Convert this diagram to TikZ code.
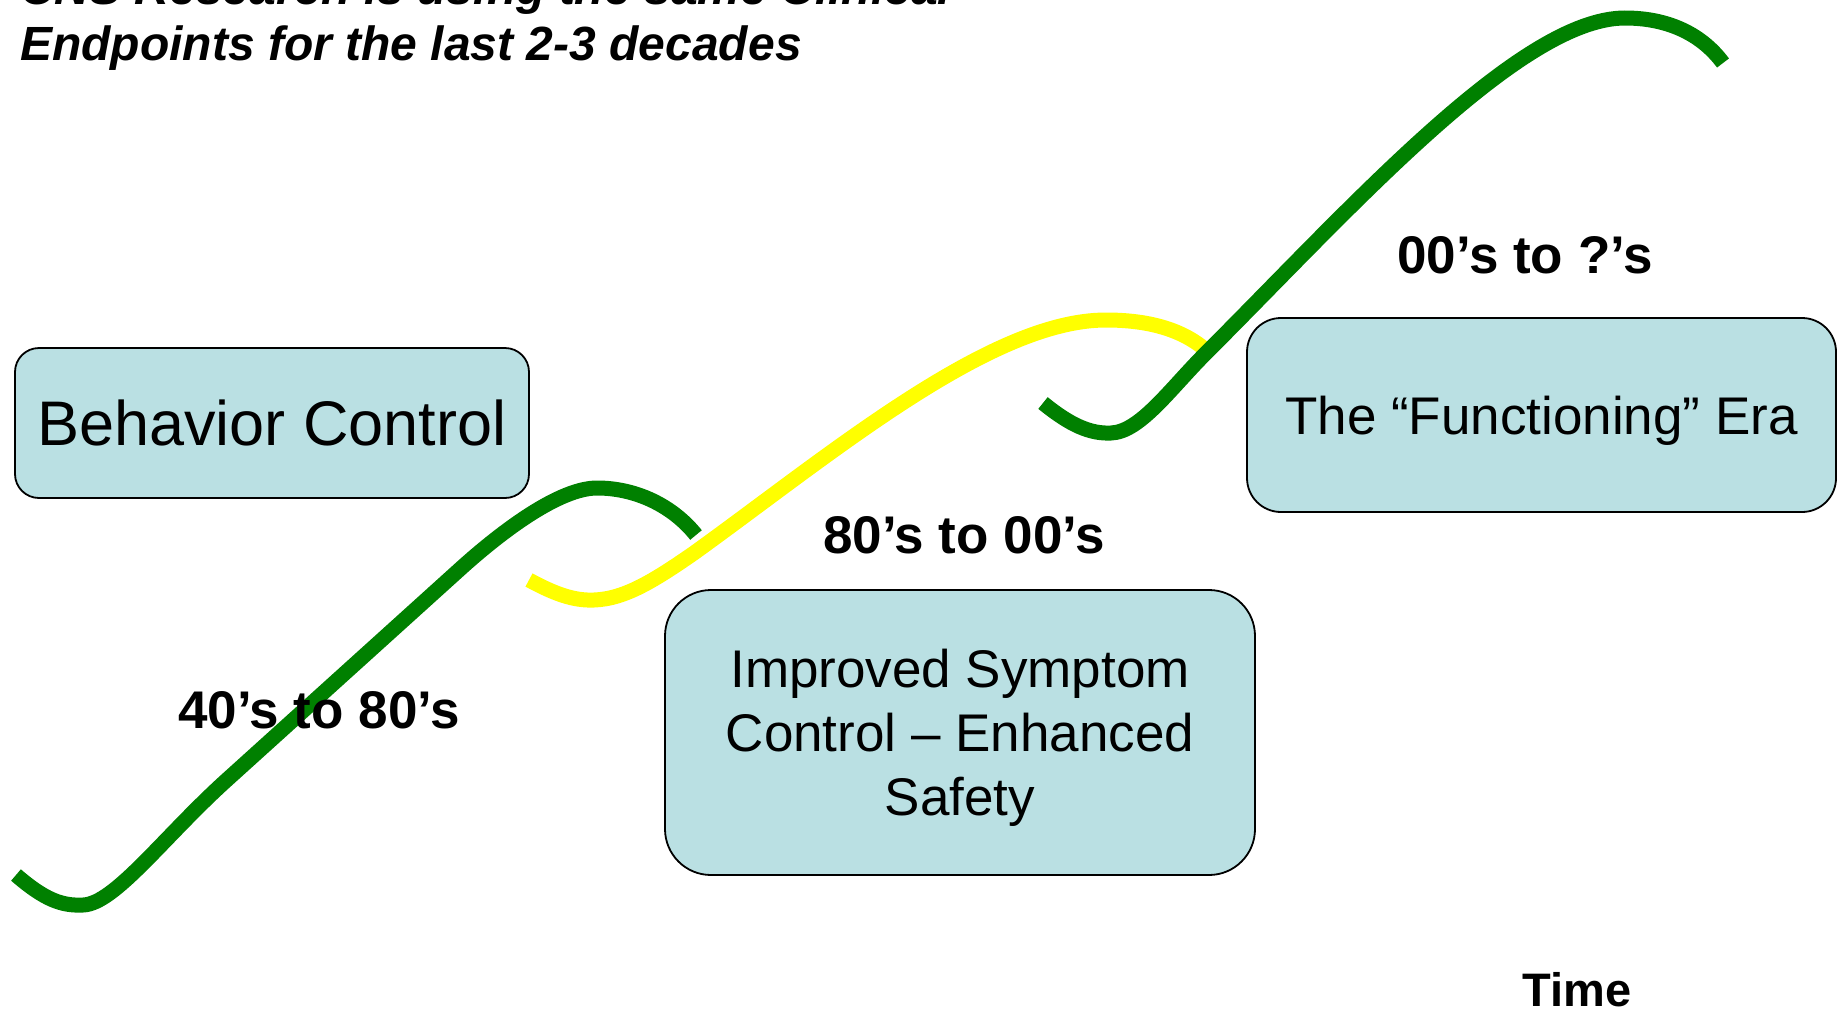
\documentclass[tikz,border=0pt]{standalone}
\usepackage{fontspec}
\setmainfont{Liberation Sans}
\definecolor{boxfill}{RGB}{186,224,227}
\definecolor{curvegreen}{RGB}{0,128,0}
\definecolor{curveyellow}{RGB}{255,255,0}
\tikzset{
  erabox/.style={draw=black, line width=1.8pt, fill=boxfill, text depth=0pt,
    align=center, inner sep=0pt, font=\fontsize{53}{64}\selectfont},
  greencurve/.style={draw=curvegreen, line width=15pt, line cap=butt},
  yellowcurve/.style={draw=curveyellow, line width=15pt, line cap=butt},
  periodlabel/.style={anchor=base, font=\bfseries\fontsize{53}{64}\selectfont, inner sep=0pt},
}
\begin{document}
\begin{tikzpicture}[x=1pt,y=-1pt]
\useasboundingbox (0,0) rectangle (1842,1012);
\clip (0,0) rectangle (1842,1012);
\fill[white] (0,0) rectangle (1842,1012);

% title (first line cut by the top edge)
\node[anchor=base west, inner sep=0pt, font=\bfseries\itshape\fontsize{48}{55.5}\selectfont] (title1) at (20,4.5) {CNS Research is using the same Clinical};
\node[anchor=base west, inner sep=0pt, font=\bfseries\itshape\fontsize{48}{55.5}\selectfont] (title2) at (20,60) {Endpoints for the last 2-3 decades};

% curves
\coordinate (g1s) at (16,875);
\coordinate (g1e) at (696,535);
\draw[greencurve] (g1s) .. controls (45,900) and (62,906) .. (83,905)
  .. controls (115,904) and (165,835) .. (230,777)
  -- (459,570)
  .. controls (503,530) and (560,488) .. (597,488)
  .. controls (635,488) and (672,505) .. (g1e);

\coordinate (ys) at (529,580);
\coordinate (ye) at (1208,352);
\draw[yellowcurve] (ys) .. controls (553,593) and (573,601) .. (594,600)
  .. controls (625,599) and (655,580) .. (694,553)
  .. controls (830,455) and (990,320) .. (1106,320)
  .. controls (1145,320) and (1182,328) .. (ye);

\coordinate (g2s) at (1043,403);
\coordinate (g2e) at (1723,63);
\draw[greencurve] (g2s) .. controls (1070,425) and (1090,434) .. (1111,433)
  .. controls (1140,432) and (1170,389) .. (1206,353)
  .. controls (1350,209) and (1520,18) .. (1625,18)
  .. controls (1665,18) and (1700,32) .. (g2e);

% boxes
\node[erabox, rounded corners=24pt, minimum width=514pt, minimum height=150pt, font=\fontsize{63}{75}\selectfont] (behav) at (272,423) {Behavior Control};
\node[erabox, rounded corners=46pt, minimum width=590pt, minimum height=285pt] (sympt) at (960,732.5) {Improved Symptom\\Control -- Enhanced\\Safety};
\node[erabox, rounded corners=34pt, minimum width=589pt, minimum height=194pt] (funct) at (1541.5,415) {The “Functioning” Era};

% period labels
\node[periodlabel] (p1) at (319,728) {40’s to 80’s};
\node[periodlabel] (p2) at (964,553) {80’s to 00’s};
\node[periodlabel] (p3) at (1525,273) {00’s to ?’s};
\node[anchor=base, inner sep=0pt, font=\bfseries\fontsize{47}{56}\selectfont] (time) at (1577,1006) {Time};
\end{tikzpicture}
\end{document}
